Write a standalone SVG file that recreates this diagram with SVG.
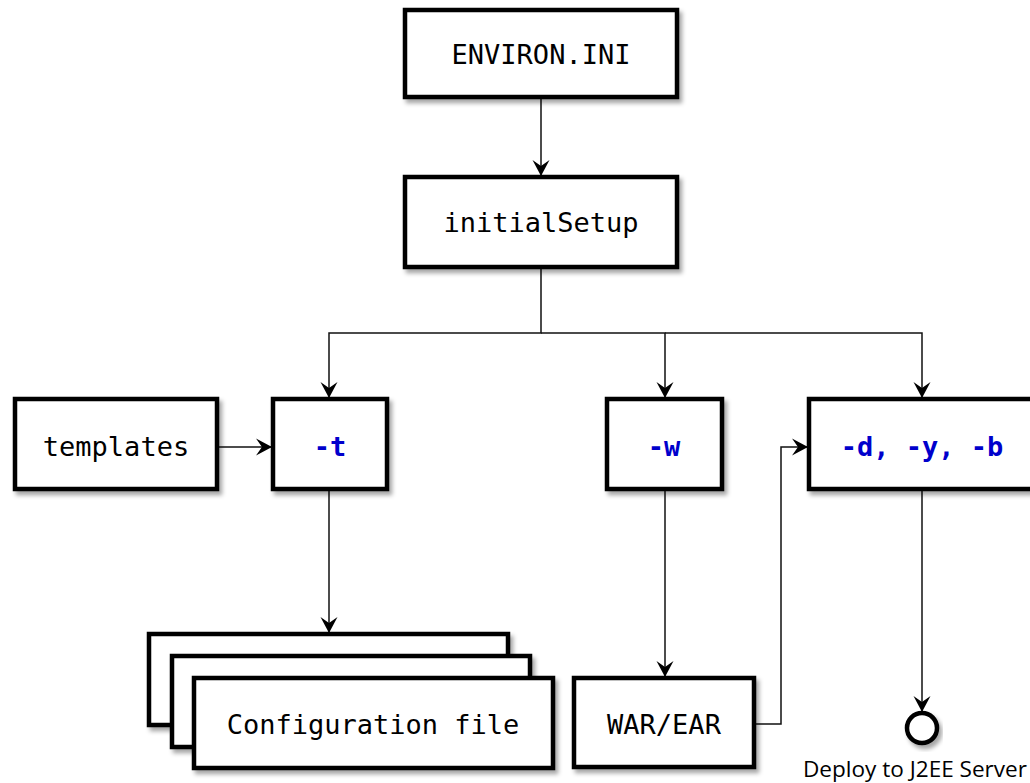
<svg xmlns="http://www.w3.org/2000/svg" width="1030" height="783" viewBox="0 0 1030 783">
<defs>
<filter id="sh" x="-10%" y="-10%" width="130%" height="140%">
<feDropShadow dx="3" dy="4" stdDeviation="2" flood-color="#000" flood-opacity="0.35"/>
</filter>
<marker id="ah" markerUnits="userSpaceOnUse" markerWidth="20" markerHeight="20" viewBox="-17 -10 20 20" refX="0" refY="0" orient="auto">
<path d="M0,0 L-16,-8.5 L-10,0 L-16,8.5 Z" fill="#000"/>
</marker>
<style>
.box{fill:#fff;stroke:#000;stroke-width:4.5;filter:url(#sh)}
.t{font-family:"DejaVu Sans Mono","Liberation Mono",monospace;font-size:27px;fill:#000;text-anchor:middle;dominant-baseline:central}
.b{fill:#0000cc;font-weight:bold}
.c{fill:none;stroke:#111;stroke-width:1.5}
</style>
</defs>
<g id="connectors">
<path class="c" d="M541,97 V176" marker-end="url(#ah)"/>
<path class="c" d="M541,267 V333 H329 V398" marker-end="url(#ah)"/>
<path class="c" d="M541,333 H665 V398" marker-end="url(#ah)"/>
<path class="c" d="M665,333 H922 V398" marker-end="url(#ah)"/>
<path class="c" d="M217,447 H272" marker-end="url(#ah)"/>
<path class="c" d="M329,489 V633" marker-end="url(#ah)"/>
<path class="c" d="M665,489 V677" marker-end="url(#ah)"/>
<path class="c" d="M754,724 H781 V447 H808" marker-end="url(#ah)"/>
<path class="c" d="M922,489 V712" marker-end="url(#ah)"/>
</g>
<g id="environ"><rect class="box" x="405" y="10" width="272" height="87"/><text class="t" x="541" y="54">ENVIRON.INI</text></g>
<g id="initialSetup"><rect class="box" x="405" y="177" width="272" height="90"/><text class="t" x="541" y="222">initialSetup</text></g>
<g id="templates"><rect class="box" x="15" y="399" width="202" height="90"/><text class="t" x="116" y="446">templates</text></g>
<g id="opt-t"><rect class="box" x="273" y="399" width="114" height="90"/><text class="t b" x="330" y="446">-t</text></g>
<g id="opt-w"><rect class="box" x="607" y="399" width="115" height="90"/><text class="t b" x="664" y="446">-w</text></g>
<g id="opt-dyb"><rect class="box" x="809" y="399" width="240" height="90"/><text class="t b" x="922" y="446">-d, -y, -b</text></g>
<g id="config">
<rect class="box" x="149" y="634" width="359" height="91"/>
<rect class="box" x="172" y="656" width="358" height="91"/>
<rect class="box" x="194" y="678" width="359" height="90"/>
<text class="t" x="373" y="724">Configuration file</text>
</g>
<g id="warear"><rect class="box" x="574" y="678" width="180" height="89"/><text class="t" x="664" y="724">WAR/EAR</text></g>
<g id="deploy">
<circle cx="922" cy="728" r="15" fill="#fff" stroke="#000" stroke-width="4.5" filter="url(#sh)"/>
<text x="915" y="768" font-family="'Open Sans','Liberation Sans',sans-serif" font-size="22" text-anchor="middle" dominant-baseline="central" fill="#000" textLength="224" lengthAdjust="spacingAndGlyphs">Deploy to J2EE Server</text>
</g>
</svg>
